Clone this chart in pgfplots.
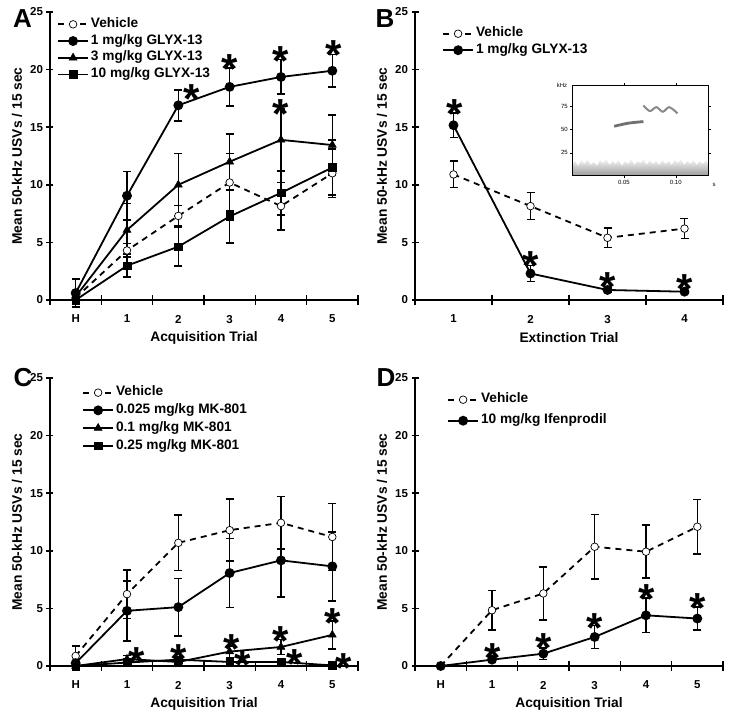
\documentclass[border=0pt]{standalone}
\usepackage{fontspec}
\setmainfont{Liberation Sans}
\usepackage{pgfplots}
\pgfplotsset{compat=1.18}

\newcommand{\sig}[2]{\node[font=\bfseries\fontsize{42}{42}\selectfont, anchor=base, yshift=-24pt, inner sep=0pt] at (axis cs:#1,#2) {*};}

\pgfplotsset{
  panel/.style={
    scale only axis, width=308pt, height=288pt,
    axis lines=left,
    axis line style={-, line width=1.8pt},
    ymin=0, ymax=25, ytick={0,5,...,25},
    tick align=center,
    major tick length=7pt, minor tick length=10pt,
    tick style={black, line width=1.5pt},
    major x tick style={draw=none},
    /pgf/number format/assume math mode=true,
    ticklabel style={font=\bfseries\fontsize{11.5}{13}\selectfont},
    xticklabel style={yshift=-8pt},
    label style={font=\bfseries\fontsize{13.8}{15}\selectfont},
    ylabel={Mean 50-kHz USVs / 15 sec},
    ylabel style={at={(axis description cs:0,0.5)}, anchor=center, yshift=33pt},
    xlabel style={at={(axis description cs:0.5,0)}, anchor=center, yshift=-38pt},
    clip=false,
    legend cell align=left,
    legend style={draw=none, fill=none, font=\bfseries\fontsize{13.7}{15}\selectfont,
      anchor=north west, inner sep=0pt, row sep=4.2pt, column sep=2pt,
      nodes={inner sep=0pt, text height=9.5pt, text depth=3pt}},
    every axis plot post/.append style={legend image code/.code={\draw[mark repeat=2,mark phase=2] plot coordinates {(0pt,0pt) (15pt,0pt) (30pt,0pt)};}},
  },
  acq/.style={xmin=-0.5, xmax=5.5, xtick={0,...,5}, xticklabels={H,1,2,3,4,5},
    minor xtick={-0.5,0.5,...,5.5}, xlabel={Acquisition Trial}},
  ext/.style={xmin=0.5, xmax=4.5, xtick={1,...,4}, xticklabels={1,2,3,4},
    minor xtick={0.5,1.5,...,4.5}, xlabel={Extinction Trial}},
  ebars/.style={error bars/y dir=both, error bars/y explicit,
    error bars/error bar style={solid, line width=1.6pt},
    error bars/error mark options={rotate=90, mark size=4pt, line width=1.6pt, solid}},
  veh/.style={black, line width=1.8pt, dash pattern=on 6pt off 5pt, mark=*, mark size=3.8pt,
    mark options={solid, fill=white, line width=0.7pt}, ebars},
  fcirc/.style={black, line width=1.8pt, mark=*, mark size=4pt, mark options={fill=black}, ebars},
  ftri/.style={black, line width=1.8pt, mark=triangle*, mark size=4.6pt, mark options={fill=black, line width=0.5pt}, ebars},
  fsq/.style={black, line width=1.8pt, mark=square*, mark size=3.8pt, mark options={fill=black, line width=0.5pt}, ebars},
}

\begin{document}
\begin{tikzpicture}[x=1pt,y=1pt]
\path[use as bounding box] (0,0) rectangle (729,717);

% ---------------- Panel A ----------------
\begin{axis}[panel, acq, at={(50pt,417pt)}, anchor=south west,
  legend style={at={(axis description cs:0.0227,0.9795)}}]
\addplot[veh] coordinates {(0,0.2) +- (0,0) (1,4.3) +- (0,0.6) (2,7.3) +- (0,0.9) (3,10.2) +- (0,2.5) (4,8.15) +- (0,2.05) (5,11.0) +- (0,2.1)};
\addlegendentry{Vehicle}
\addplot[fcirc] coordinates {(0,0.6) +- (0,1.2) (1,9.05) +- (0,2.1) (2,16.9) +- (0,1.35) (3,18.5) +- (0,1.65) (4,19.36) +- (0,1.5) (5,19.9) +- (0,1.4)};
\addlegendentry{1 mg/kg GLYX-13}
\addplot[ftri] coordinates {(0,0.3) +- (0,0.5) (1,6.07) +- (0,2.3) (2,10.0) +- (0,2.7) (3,12.0) +- (0,2.4) (4,13.9) +- (0,2.7) (5,13.45) +- (0,2.6)};
\addlegendentry{3 mg/kg GLYX-13}
\addplot[fsq] coordinates {(0,0) +- (0,0) (1,2.98) +- (0,1.0) (2,4.63) +- (0,1.7) (3,7.25) +- (0,2.3) (4,9.3) +- (0,1.9) (5,11.5) +- (0,2.4)};
\addlegendentry{10 mg/kg GLYX-13}
\sig{2.26}{18.3}
\sig{3.0}{20.9}
\sig{4.0}{21.6}
\sig{4.0}{17.0}
\sig{5.02}{22.05}
\end{axis}

% ---------------- Panel B ----------------
\begin{axis}[panel, ext, at={(415pt,417pt)}, anchor=south west,
  legend style={at={(axis description cs:0.0877,0.947)}, row sep=4pt}]
\addplot[veh] coordinates {(1,10.9) +- (0,1.15) (2,8.15) +- (0,1.17) (3,5.4) +- (0,0.85) (4,6.2) +- (0,0.87)};
\addlegendentry{Vehicle}
\addplot[fcirc] coordinates {(1,15.17) +- (0,1.08) (2,2.3) +- (0,0.7) (3,0.87) +- (0,0.2) (4,0.72) +- (0,0.15)};
\addlegendentry{1 mg/kg GLYX-13}
\sig{1.01}{17.0}
\sig{2.0}{3.8}
\sig{3.0}{1.97}
\sig{4.0}{1.74}
\end{axis}

% inset spectrogram
\begin{axis}[at={(572pt,541pt)}, anchor=south west, scale only axis, width=136pt, height=90pt,
  xmin=0, xmax=0.131, ymin=0, ymax=97, xtick={0.05,0.10}, xticklabels={0.05,0.10},
  ytick={25,50,75}, tick align=outside, major tick length=2.5pt,
  tick style={black, line width=0.5pt}, axis line style={line width=1pt},
  ticklabel style={font=\fontsize{6}{7}\selectfont, inner sep=1.5pt},
  /pgf/number format/assume math mode=true, clip=false, axis on top]
\addplot[draw=none, top color=gray!8, bottom color=gray!80] coordinates {
(0,12) (0.003,16) (0.006,11) (0.009,17) (0.012,13) (0.015,18) (0.018,12) (0.021,15) (0.024,11)
(0.027,17) (0.030,14) (0.033,18) (0.036,12) (0.039,16) (0.042,13) (0.045,17) (0.048,11) (0.051,16)
(0.054,13) (0.057,18) (0.060,12) (0.063,16) (0.066,14) (0.069,18) (0.072,12) (0.075,17) (0.078,13)
(0.081,16) (0.084,12) (0.087,17) (0.090,13) (0.093,16) (0.096,12) (0.099,17) (0.102,14) (0.105,18)
(0.108,12) (0.111,16) (0.114,13) (0.117,17) (0.120,12) (0.123,16) (0.126,13) (0.129,17) (0.131,14)} \closedcycle;
\addplot[gray!60!black, line width=2.8pt, smooth, opacity=0.8] coordinates {(0.0406,53.6) (0.0547,57.0) (0.0688,58.6)};
\addplot[gray!85!black, line width=2pt, smooth, opacity=0.8] coordinates {(0.0688,76) (0.075,69.9) (0.0812,74.2) (0.0875,69.2) (0.0937,74.2) (0.1016,67.5)};
\node[font=\fontsize{6}{7}\selectfont, anchor=center] at (axis description cs:0,1) [xshift=-10pt, yshift=1pt] {kHz};
\node[font=\fontsize{6}{7}\selectfont, anchor=center] at (axis description cs:1,0) [xshift=6pt, yshift=-9pt] {s};
\end{axis}

% ---------------- Panel C ----------------
\begin{axis}[panel, acq, at={(50pt,51pt)}, anchor=south west,
  legend style={at={(axis description cs:0.104,0.9715)}, row sep=5.2pt}]
\addplot[veh] coordinates {(0,0.87) +- (0,0.85) (1,6.24) +- (0,2.1) (2,10.69) +- (0,2.4) (3,11.79) +- (0,2.7) (4,12.43) +- (0,2.3) (5,11.2) +- (0,2.9)};
\addlegendentry{Vehicle}
\addplot[fcirc] coordinates {(0,0.25) +- (0,0) (1,4.79) +- (0,2.6) (2,5.11) +- (0,2.5) (3,8.07) +- (0,3.0) (4,9.17) +- (0,3.2) (5,8.65) +- (0,3.0)};
\addlegendentry{0.025 mg/kg MK-801}
\addplot[ftri] coordinates {(0,0) +- (0,0) (1,0.6) +- (0,0.3) (2,0.35) +- (0,0.2) (3,1.25) +- (0,0.5) (4,1.65) +- (0,0.65) (5,2.7) +- (0,1.2)};
\addlegendentry{0.1 mg/kg MK-801}
\addplot[fsq] coordinates {(0,0) +- (0,0) (1,0.3) +- (0,0.15) (2,0.55) +- (0,0.2) (3,0.35) +- (0,0.15) (4,0.35) +- (0,0.15) (5,0.05) +- (0,0.05)};
\addlegendentry{0.25 mg/kg MK-801}
\sig{1.19}{1.16}
\sig{2.0}{1.45}
\sig{3.03}{2.3}
\sig{3.26}{0.87}
\sig{4.0}{3.0}
\sig{4.26}{1.0}
\sig{5.0}{4.6}
\sig{5.23}{0.67}
\end{axis}

% ---------------- Panel D ----------------
\begin{axis}[panel, acq, at={(415pt,51pt)}, anchor=south west,
  legend style={at={(axis description cs:0.104,0.947)}, row sep=8.5pt}]
\addplot[veh] coordinates {(0,0) +- (0,0) (1,4.84) +- (0,1.7) (2,6.3) +- (0,2.3) (3,10.35) +- (0,2.8) (4,9.92) +- (0,2.3) (5,12.09) +- (0,2.35)};
\addlegendentry{Vehicle}
\addplot[fcirc] coordinates {(0,0) +- (0,0) (1,0.55) +- (0,0.25) (2,1.07) +- (0,0.5) (3,2.52) +- (0,1.0) (4,4.4) +- (0,1.5) (5,4.12) +- (0,1.0)};
\addlegendentry{10 mg/kg Ifenprodil}
\sig{1.01}{1.54}
\sig{2.01}{2.35}
\sig{3.0}{4.15}
\sig{4.01}{6.6}
\sig{5.0}{5.84}
\end{axis}

% panel letters
\node[font=\bfseries\fontsize{26}{26}\selectfont] at (22.5,698) {A};
\node[font=\bfseries\fontsize{26}{26}\selectfont] at (385,698) {B};
\node[font=\bfseries\fontsize{26}{26}\selectfont] at (23,339) {C};
\node[font=\bfseries\fontsize{26}{26}\selectfont] at (386,339) {D};
\end{tikzpicture}
\end{document}
